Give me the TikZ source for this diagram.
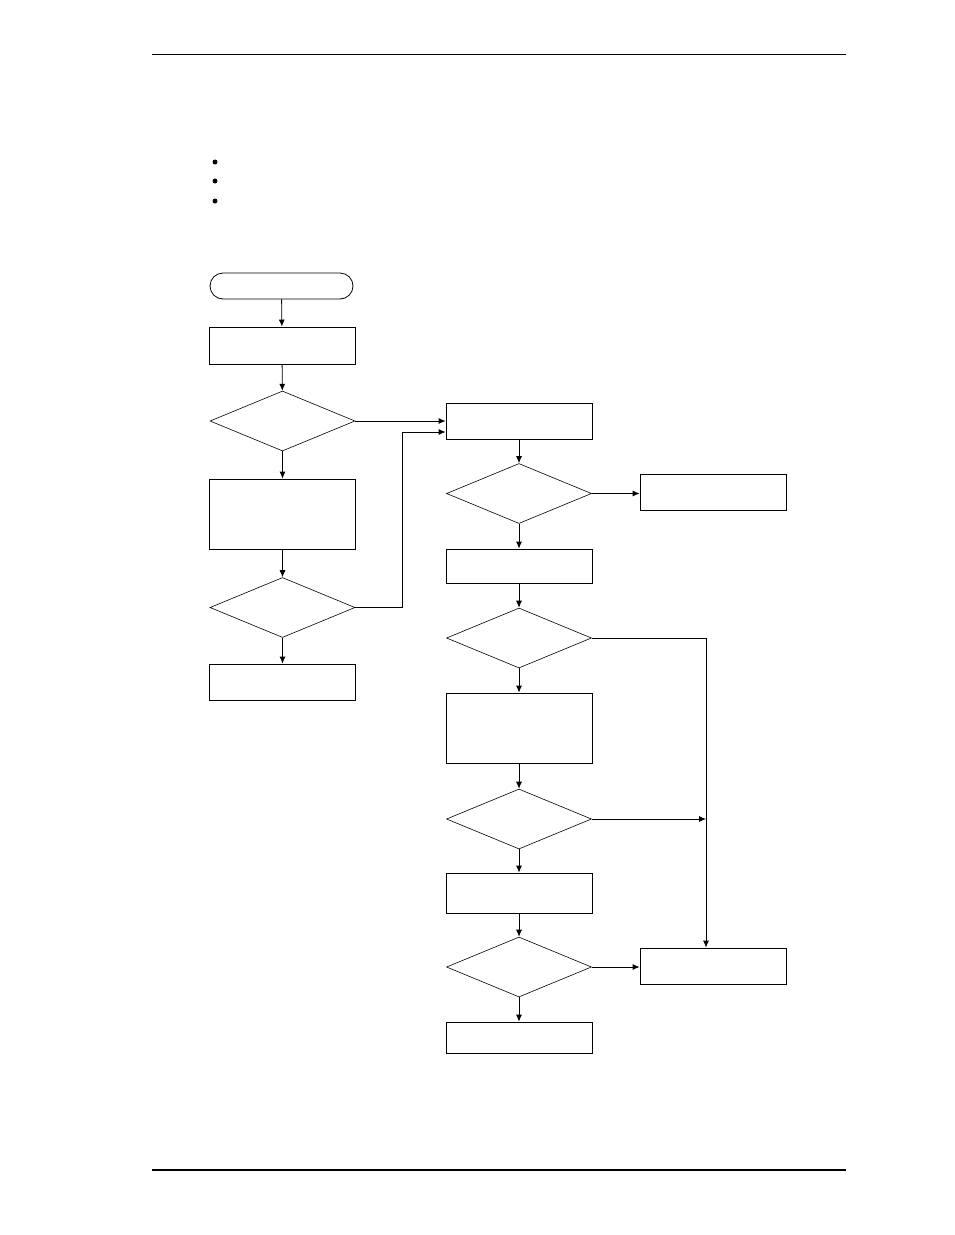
\documentclass[tikz,border=0pt]{standalone}
\usetikzlibrary{shapes.geometric,shapes.misc,arrows.meta}
\begin{document}
\begin{tikzpicture}[x=1pt, y=-1pt, line width=0.8pt,
  box/.style={draw=black, rectangle, inner sep=0pt, minimum width=146pt, minimum height=#1},
  box/.default=36pt,
  decision/.style={draw=black, diamond, inner sep=0pt, minimum width=145pt, minimum height=60pt, line width=0.6pt},
  terminal/.style={draw=black, rounded rectangle, inner sep=0pt, minimum width=143pt, minimum height=26pt},
  dot/.style={circle, fill=black, inner sep=0pt, minimum size=5pt},
  flow/.style={-{Latex[length=7pt,width=6pt]}}]
\useasboundingbox (0,0) rectangle (954,1235);
% page rules
\draw (152,54) -- (846,54);
\draw[line width=2pt] (152,1170) -- (846,1170);
% bullets
\node[dot] (b1) at (215,162) {};
\node[dot] (b2) at (215,181) {};
\node[dot] (b3) at (215,201) {};
% left column
\node[terminal] (start) at (281.5,286) {};
\node[box=37pt] (init) at (282,345.5) {};
\node[decision] (q1) at (282.5,421) {};
\node[box=70pt] (work) at (282.5,514) {};
\node[decision] (q2) at (282.5,607.5) {};
\node[box] (stopL) at (282.5,682) {};
% right column
\node[box] (main) at (519,421) {};
\node[decision] (q3) at (519,493.5) {};
\node[box] (side) at (713,492) {};
\node[box=34pt] (step) at (519,566) {};
\node[decision] (q4) at (519,638) {};
\node[box=70pt] (work2) at (519,728) {};
\node[decision] (q5) at (519,819) {};
\node[box=40pt] (step2) at (519,893) {};
\node[decision] (q6) at (519,967) {};
\node[box] (fail) at (713,966) {};
\node[box=31pt] (done) at (519,1037.5) {};
\coordinate (join) at (706,819);
% connectors
\draw[flow] (start) -- (init);
\draw[flow] (init) -- (q1);
\draw[flow] (q1) -- (work);
\draw[flow] (work) -- (q2);
\draw[flow] (q2) -- (stopL);
\draw[flow] (q1.east) -- (q1.east -| main.west);
\draw[flow] (q2.east) -- (402,607.5) -- (402,432) -- (main.west |- 0,432);
\draw[flow] (main) -- (q3);
\draw[flow] (q3.east) -- (side.west |- q3.east);
\draw[flow] (q3) -- (step);
\draw[flow] (step) -- (q4);
\draw[flow] (q4.east) -- (q4.east -| join) -- (fail.north -| join);
\draw[flow] (q4) -- (work2);
\draw[flow] (work2) -- (q5);
\draw[flow] (q5.east) -- (join);
\draw[flow] (q5) -- (step2);
\draw[flow] (step2) -- (q6);
\draw[flow] (q6.east) -- (fail.west |- q6.east);
\draw[flow] (q6) -- (done);
\end{tikzpicture}
\end{document}
